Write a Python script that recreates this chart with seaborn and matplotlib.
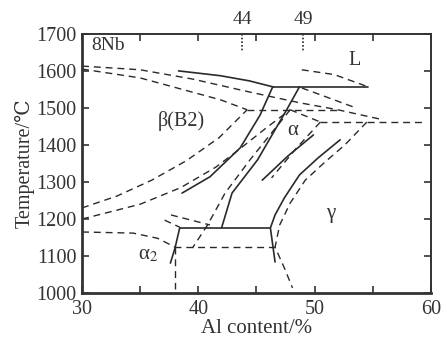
import matplotlib
matplotlib.use("Agg")
import matplotlib.pyplot as plt
import seaborn as sns
import pandas as pd

sns.set_theme(style="ticks")
plt.rcParams['font.family'] = ['Liberation Serif', 'DejaVu Serif']
plt.rcParams['mathtext.fontset'] = 'stix'

# ---------------- data (Al content %, temperature C) ----------------
# solid lines (8Nb section)
liq_x = [38.3, 41.9, 44.4, 46.4];            liq_T = [1600, 1587, 1573, 1557]
per_x = [46.4, 54.6];                        per_T = [1557, 1557]
bt_x = [46.4, 45.3, 43.6, 41.0, 38.6];       bt_T = [1557, 1480, 1392, 1314, 1270]
ab_x = [48.7, 47.6, 45.1, 42.9, 42.0];       ab_T = [1557, 1495, 1360, 1270, 1176]
ag_x = [49.9, 47.7, 45.5];                   ag_T = [1427, 1370, 1305]
gs_x = [52.2, 50.3, 48.7, 47.4, 46.6, 46.2, 46.6]
gs_T = [1414, 1365, 1319, 1257, 1211, 1176, 1084]
eus_x = [38.4, 46.2];                        eus_T = [1176, 1176]
a2s_x = [38.4, 38.0, 37.6];                  a2s_T = [1176, 1122, 1081]

# dashed lines (binary Ti-Al)
b1_x = [30, 35, 39.5, 44.4, 48.7, 52, 55.9]; b1_T = [1613, 1603, 1578, 1543, 1514, 1495, 1468]
b2_x = [30, 35, 41.9, 44.2];                 b2_T = [1605, 1581, 1522, 1495]
p1_x = [44.2, 52];                           p1_T = [1495, 1495]
b3_x = [30, 33, 36, 39, 41.8, 44.2];         b3_T = [1230, 1262, 1305, 1358, 1420, 1495]
b4_x = [30, 35, 38.5, 41.5, 43.4, 45.8, 47.9]
b4_T = [1200, 1240, 1285, 1340, 1385, 1445, 1495]
b5_x = [47.9, 50.5];                         b5_T = [1495, 1462]
p2_x = [50.5, 59.5];                         p2_T = [1462, 1462]
bl_x = [47.9, 44.45, 42.3, 40.8, 39.5];      bl_T = [1495, 1360, 1270, 1184, 1122]
bag_x = [50.5, 48.4, 46.3];                  bag_T = [1462, 1390, 1311]
bg_x = [54.5, 52.6, 50.9, 49.2, 47.9, 47.0, 46.6, 47.4, 48.1]
bg_T = [1462, 1400, 1354, 1305, 1243, 1184, 1124, 1068, 1014]
eud_x = [37.9, 46.6];                        eud_T = [1124, 1124]
a2l_x = [30, 34.4, 36.5, 38.0];              a2l_T = [1165, 1162, 1148, 1124]
a2v_x = [38.0, 38.0];                        a2v_T = [1124, 1012]
sa_x = [37.1, 38.4];                         sa_T = [1197, 1178]
sb_x = [37.65, 41.0];                        sb_T = [1211, 1184]
ld_x = [48.9, 51.7, 54.6];                   ld_T = [1603, 1590, 1557]
sd_x = [48.9, 53.3];                         sd_T = [1554, 1503]

marker_x = [43.8, 49.0]
marker_labels = ["44", "49"]

solid = [(liq_x, liq_T), (per_x, per_T), (bt_x, bt_T), (ab_x, ab_T), (ag_x, ag_T),
         (gs_x, gs_T), (eus_x, eus_T), (a2s_x, a2s_T)]
dashed = [(b1_x, b1_T), (b2_x, b2_T), (p1_x, p1_T), (b3_x, b3_T), (b4_x, b4_T),
          (b5_x, b5_T), (p2_x, p2_T), (bl_x, bl_T), (bag_x, bag_T), (bg_x, bg_T),
          (eud_x, eud_T), (a2l_x, a2l_T), (a2v_x, a2v_T), (sa_x, sa_T), (sb_x, sb_T),
          (ld_x, ld_T), (sd_x, sd_T)]

fig = plt.figure(figsize=(4.41, 3.42), dpi=100)
ax = fig.add_axes([0.186, 0.143, 0.791, 0.758])

lc = '#2a2a2a'
for xs, ts in solid:
    df = pd.DataFrame({'x': xs, 'T': ts})
    sns.lineplot(data=df, x='x', y='T', ax=ax, sort=False, estimator=None,
                 color=lc, lw=1.2)
for xs, ts in dashed:
    df = pd.DataFrame({'x': xs, 'T': ts})
    sns.lineplot(data=df, x='x', y='T', ax=ax, sort=False, estimator=None,
                 color=lc, lw=1.0, dashes=False, linestyle=(0, (5, 3.5)))

for mx in marker_x:
    ax.plot([mx, mx], [1700, 1650], color=lc, lw=1.2, linestyle=(0, (1, 1.2)), clip_on=False)
for mx, lab in zip(marker_x, marker_labels):
    ax.text(mx, 1716, lab, ha='center', va='bottom', fontsize=14, color='#333')

ax.set_xlim(30, 60)
ax.set_ylim(1000, 1700)
ax.set_xticks([30, 35, 40, 45, 50, 55, 60])
ax.set_xticklabels(['30', '', '40', '', '50', '', '60'])
ax.set_yticks([1000, 1100, 1200, 1300, 1400, 1500, 1600, 1700])
ax.tick_params(direction='in', top=True, right=True, length=5, width=1.2,
               labelsize=14.5, colors='#333')
ax.tick_params(axis='x', pad=5)
ax.tick_params(axis='y', pad=4)
for side, s in ax.spines.items():
    s.set_linewidth(2.0 if side in ('left', 'bottom') else 1.4)
    s.set_color('#333')
ax.set_xlabel('Al content/%', fontsize=15, color='#333', labelpad=0)
ax.set_ylabel('Temperature/℃', fontsize=14.5, color='#333', labelpad=1)

txt = dict(color='#333', ha='center', va='center')
ax.text(32.2, 1668, '8Nb', fontsize=14, **txt)
ax.text(38.5, 1465, 'β(B2)', fontsize=14.5, **txt)
ax.text(53.4, 1627, 'L', fontsize=14.5, **txt)
ax.text(48.1, 1438, 'α', fontsize=15, **txt)
ax.text(51.4, 1214, 'γ', fontsize=15, **txt)
ax.text(35.7, 1103, r'α$_2$', fontsize=15, **txt)

fig.savefig('out.png', dpi=100)
